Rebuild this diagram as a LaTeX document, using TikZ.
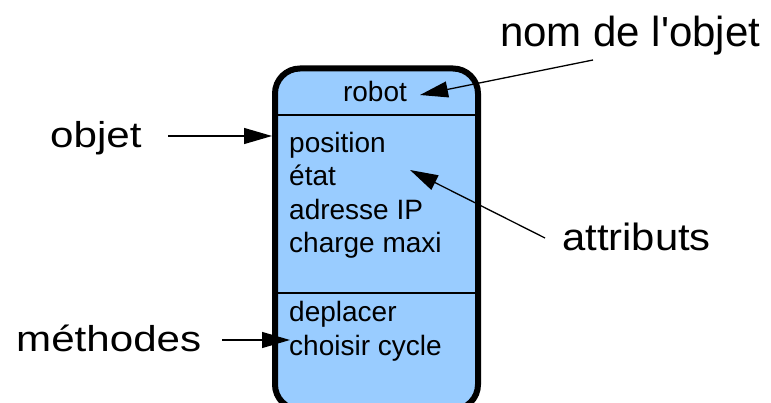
\documentclass[tikz,border=0pt]{standalone}
\usepackage{fontspec}
\setmainfont{Liberation Sans}
\newfontfamily\widefont[FakeStretch=1.17]{Liberation Sans}
\newfontfamily\midfont[FakeStretch=1.1]{Liberation Sans}
\usetikzlibrary{arrows.meta}
\definecolor{boxblue}{HTML}{99CCFF}
\begin{document}
\begin{tikzpicture}[x=1pt,y=-1pt,
  boxtext/.style={font=\fontsize{28}{28}\selectfont, anchor=base west, inner sep=0pt},
  callout/.style={anchor=base west, inner sep=0pt},
  divider/.style={line width=1.5pt},
  pointer/.style={line width=1.3pt, -{Triangle[length=28pt,width=16pt]}}]
\useasboundingbox (0,0) rectangle (771,403);
\clip (0,0) rectangle (771,403);

% the object box
\node[draw=black, line width=6pt, fill=boxblue, rounded corners=25pt,
      minimum width=203pt, minimum height=341pt, inner sep=0pt,
      anchor=north west] (box) at (272,65.5) {};

% compartment separators
\coordinate (sep1) at (0,115);
\coordinate (sep2) at (0,293);
\draw[divider] (box.west |- sep1) -- (box.east |- sep1);
\draw[divider] (box.west |- sep2) -- (box.east |- sep2);

% name, attributes, methods
\node[boxtext, anchor=base] (name) at (375,102) {robot};
\node[boxtext] (attr1) at (289,153) {position};
\node[boxtext] (attr2) at (289,186) {état};
\node[boxtext] (attr3) at (289,219.5) {adresse IP};
\node[boxtext] (attr4) at (289,252.5) {charge maxi};
\node[boxtext] (meth1) at (289,322) {deplacer};
\node[boxtext] (meth2) at (289,355) {choisir cycle};

% callout labels
\node[callout, font=\fontsize{42}{42}\selectfont] (lblname) at (500,47) {nom de l\textquotesingle objet};
\node[callout, font=\widefont\fontsize{36}{36}\selectfont] (lblobj) at (50,148) {objet};
\node[callout, font=\midfont\fontsize{38}{38}\selectfont] (lblattr) at (562,251) {attributs};
\node[callout, font=\widefont\fontsize{36}{36}\selectfont] (lblmeth) at (16,352) {méthodes};

% pointer ends
\coordinate (nametail) at (593,60);
\coordinate (nametip) at (420,95);
\coordinate (objtail) at (168,136);
\coordinate (attrtail) at (545,238);
\coordinate (attrtip) at (410,170);
\coordinate (methtail) at (222,340);
\coordinate (methtip) at (290,340);

\draw[pointer] (nametail) -- (nametip);
\draw[pointer] (objtail) -- (box.west |- objtail);
\draw[pointer] (attrtail) -- (attrtip);
\draw[pointer] (methtail) -- (methtip);
\end{tikzpicture}
\end{document}
